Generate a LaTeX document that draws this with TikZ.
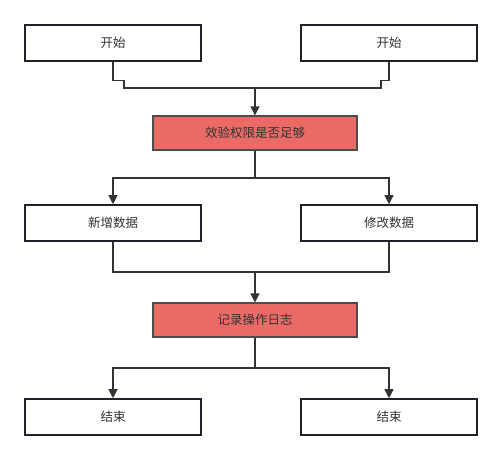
\documentclass[tikz,border=0pt]{standalone}
\usepackage{fontspec}
\setmainfont{Noto Sans CJK SC}
\usepackage{xcolor}
\usepackage{tikz}
\usetikzlibrary{arrows.meta, positioning}
\definecolor{boxred}{HTML}{EA6B66}
\definecolor{edgedark}{HTML}{1F2329}
\definecolor{linegray}{HTML}{333333}

\begin{document}
\begin{tikzpicture}[x=1pt, y=-1pt,
        box/.style={draw=edgedark, line width=1.6pt, fill=white, minimum width=176pt,
                    minimum height=36pt, font=\fontsize{12.5}{14}\selectfont, text=linegray},
        redbox/.style={draw=black!70, line width=1.2pt, fill=boxred, minimum width=204pt,
                    minimum height=34pt, font=\fontsize{12.5}{14}\selectfont, text=linegray},
        line/.style={draw=linegray, line width=1.2pt},
        arrow/.style={line, -{Triangle[length=9pt, width=9pt]}}
    ]
        \useasboundingbox (0,0) rectangle (502,460);
        \node[box]    (start1) at (113,43)  {开始};
        \node[box]    (start2) at (389,43)  {开始};
        \node[redbox] (check)  at (255,133) {效验权限是否足够};
        \node[box]    (add)    at (113,223) {新增数据};
        \node[box]    (edit)   at (389,223) {修改数据};
        \node[redbox] (log)    at (255,320) {记录操作日志};
        \node[box]    (end1)   at (113,417) {结束};
        \node[box]    (end2)   at (389,417) {结束};
        % junctions
        \coordinate (j1) at (255,88);
        \coordinate (j2) at (255,178);
        \coordinate (j3) at (255,272);
        \coordinate (j4) at (255,368);
        \draw[line] (start1.south) -- ++(0,19) -- ++(11,0) |- (j1);
        \draw[line] (start2.south) -- ++(0,19) -- ++(-8,0) |- (j1);
        \draw[arrow] (j1) -- (check);
        \draw[line] (check) -- (j2);
        \draw[arrow] (j2) -| (add);
        \draw[arrow] (j2) -| (edit);
        \draw[line] (add.south) |- (j3);
        \draw[line] (edit.south) |- (j3);
        \draw[arrow] (j3) -- (log);
        \draw[line] (log) -- (j4);
        \draw[arrow] (j4) -| (end1);
        \draw[arrow] (j4) -| (end2);
    \end{tikzpicture}
\end{document}
